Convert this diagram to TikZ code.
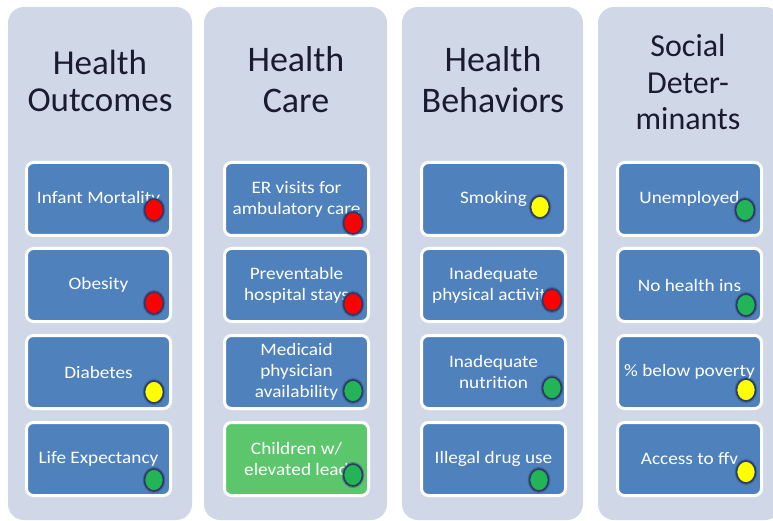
\documentclass[tikz,border=0pt]{standalone}
\usepackage{fontspec}
\setmainfont{Carlito}
\newfontfamily\boxfont{Carlito}[FakeStretch=1.1]
\usetikzlibrary{shapes.geometric,shadows}
\definecolor{colbg}{HTML}{D0D8E8}
\definecolor{boxblue}{HTML}{4F81BD}
\definecolor{boxgreen}{HTML}{5CC66C}
\definecolor{dotline}{HTML}{2A3B66}
\definecolor{dred}{HTML}{FF0000}
\definecolor{dyellow}{HTML}{FFFF00}
\definecolor{dgreen}{HTML}{22B455}
\definecolor{titlecol}{HTML}{1B1B2F}
\begin{document}
\begin{tikzpicture}[x=1pt,y=-1pt,
  column/.style={rounded corners=16pt, fill=colbg, minimum width=#1, minimum height=513pt, inner sep=0pt},
  title/.style={anchor=base, align=center, text=titlecol, inner sep=0pt},
  box/.style={draw=white, line width=3pt, rounded corners=7pt, fill=boxblue, minimum width=144pt, minimum height=73pt, inner sep=0pt, align=center, text=white, font=\boxfont\fontsize{17.5}{21}\selectfont},
  dot/.style={ellipse, draw=dotline, line width=1.6pt, minimum width=19pt, minimum height=22pt, inner sep=0pt, fill=#1, general shadow={fill=dotline, opacity=0.35, shadow scale=1.2}}
]
\useasboundingbox (0,0) rectangle (773,521);
\clip (0,0) rectangle (773,521);
\fill[white] (0,0) rectangle (773,521);

% columns
\node[column=184pt] (c1) at (100,263.5) {};
\node[column=183pt] (c2) at (295.5,263.5) {};
\node[column=181pt] (c3) at (492.5,263.5) {};
\node[column=183pt] (c4) at (689.5,263.5) {};

% titles (anchor base = baseline of last line)
\node[title, font=\fontsize{35}{37}\selectfont] (t1) at (100,112) {Health\\Outcomes};
\node[title, font=\fontsize{36}{41}\selectfont] (t2) at (296,113) {Health\\Care};
\node[title, font=\fontsize{36}{41}\selectfont] (t3) at (493,113) {Health\\Behaviors};
\node[title, font=\fontsize{32}{36.5}\selectfont] (t4) at (688,130) {Social\\Deter-\\minants};

% column 1
\node[box] (b11) at (98.5,199) {Infant Mortality};
\node[box] (b12) at (98.5,285) {Obesity};
\node[box] (b13) at (98.5,372) {Diabetes};
\node[box] (b14) at (98.5,459) {Life Expectancy};
% column 2
\node[box] (b21) at (296.5,199) {ER visits for\\ambulatory care};
\node[box] (b22) at (296.5,285) {Preventable\\hospital stays};
\node[box] (b23) at (296.5,372) {Medicaid\\physician\\availability};
\node[box, fill=boxgreen] (b24) at (296.5,459) {Children w/\\elevated lead};
% column 3
\node[box] (b31) at (493.5,199) {Smoking};
\node[box] (b32) at (493.5,285) {Inadequate\\physical activity};
\node[box] (b33) at (493.5,372) {Inadequate\\nutrition};
\node[box] (b34) at (493.5,459) {Illegal drug use};
% column 4
\node[box] (b41) at (689.5,199) {Unemployed};
\node[box] (b42) at (689.5,285) {No health ins};
\node[box] (b43) at (689.5,372) {\% below poverty};
\node[box] (b44) at (689.5,459) {Access to ffv};

% dots
\node[dot=dred] (d11) at (154,210) {};
\node[dot=dred] (d12) at (154,303) {};
\node[dot=dyellow] (d13) at (154,392) {};
\node[dot=dgreen] (d14) at (154,480) {};
\node[dot=dred] (d21) at (353,223) {};
\node[dot=dred] (d22) at (353,304) {};
\node[dot=dgreen] (d23) at (353,391) {};
\node[dot=dgreen] (d24) at (353,475) {};
\node[dot=dyellow] (d31) at (540,207) {};
\node[dot=dred] (d32) at (552,300) {};
\node[dot=dgreen] (d33) at (552,388) {};
\node[dot=dgreen] (d34) at (539,480) {};
\node[dot=dgreen] (d41) at (745,210) {};
\node[dot=dgreen] (d42) at (746,305) {};
\node[dot=dyellow] (d43) at (746,390) {};
\node[dot=dyellow] (d44) at (746,472) {};
\end{tikzpicture}
\end{document}
